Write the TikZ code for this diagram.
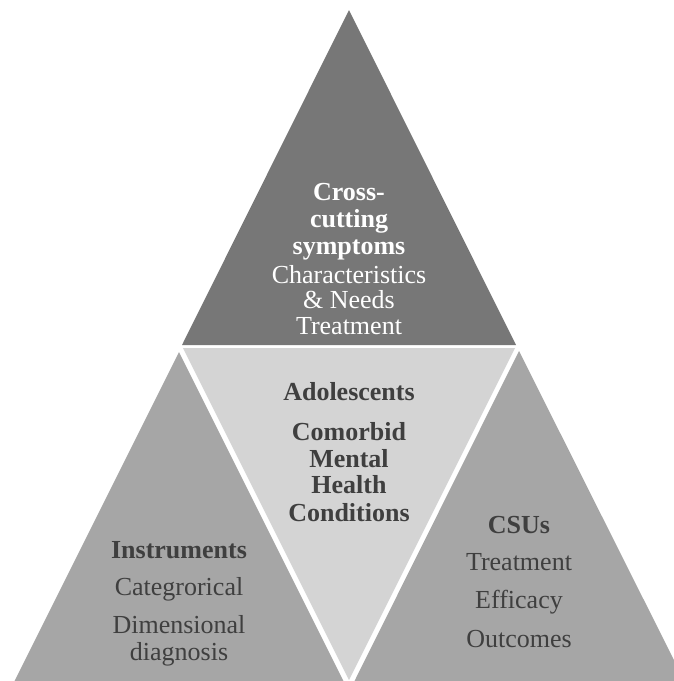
\documentclass[tikz,border=0pt]{standalone}
\usepackage{fontspec}
\setmainfont{Liberation Serif}
\definecolor{topgrey}{HTML}{777777}
\definecolor{sidegrey}{HTML}{A6A6A6}
\definecolor{midgrey}{HTML}{D4D4D4}
\definecolor{textgrey}{HTML}{3F3F3F}
\begin{document}
\begin{tikzpicture}[x=1pt,y=-1pt,
  label/.style={anchor=base,inner sep=0pt,font=\fontsize{26}{26}\selectfont},
  head/.style={label,font=\fontsize{26}{26}\selectfont\bfseries},
  light/.style={text=white},
  dark/.style={text=textgrey}]
\useasboundingbox (0,0) rectangle (674,681);
\clip (0,0) rectangle (674,681);
% four pieces of the pyramid
\fill[topgrey]  (349,10)  -- (182,345) -- (516,345) -- cycle;
\fill[midgrey]  (183,348) -- (515,348) -- (349,680) -- cycle;
\fill[sidegrey] (179,352) -- (14,682)  -- (344,682) -- cycle;
\fill[sidegrey] (519,351) -- (354,682) -- (685,682) -- cycle;
% top piece
\node[head,light] (t1) at (349,200) {Cross-};
\node[head,light] (t2) at (349,227) {cutting};
\node[head,light] (t3) at (349,254) {symptoms};
\node[label,light] (t4) at (349,283) {Characteristics};
\node[label,light] (t5) at (349,308) {\& Needs};
\node[label,light] (t6) at (349,334) {Treatment};
% centre piece
\node[head,dark] (m1) at (349,400) {Adolescents};
\node[head,dark] (m2) at (349,440) {Comorbid};
\node[head,dark] (m3) at (349,467) {Mental};
\node[head,dark] (m4) at (349,493) {Health};
\node[head,dark] (m5) at (349,521) {Conditions};
% left piece
\node[head,dark] (l1) at (179,558) {Instruments};
\node[label,dark] (l2) at (179,595) {Categrorical};
\node[label,dark] (l3) at (179,633) {Dimensional};
\node[label,dark] (l4) at (179,660) {diagnosis};
% right piece
\node[head,dark] (r1) at (519,533) {CSUs};
\node[label,dark] (r2) at (519,570) {Treatment};
\node[label,dark] (r3) at (519,608) {Efficacy};
\node[label,dark] (r4) at (519,647) {Outcomes};
\end{tikzpicture}
\end{document}
